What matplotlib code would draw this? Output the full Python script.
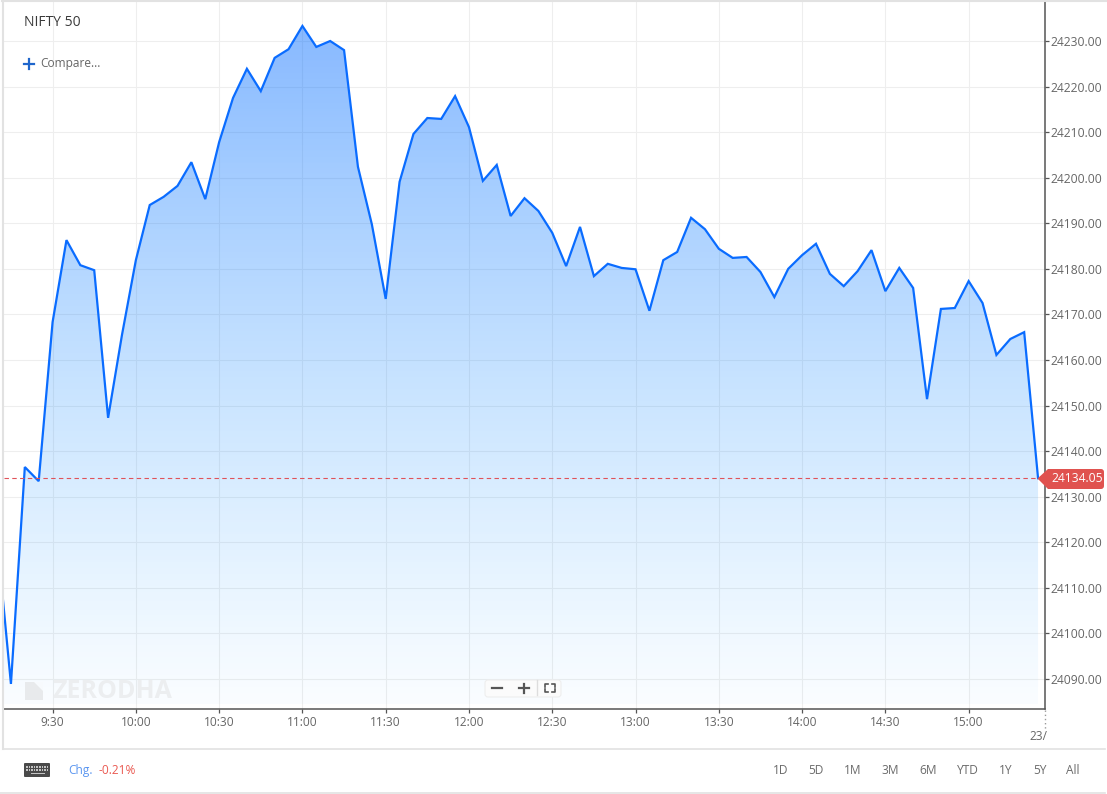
import numpy as np
import matplotlib
matplotlib.use('Agg')
import matplotlib.pyplot as plt
from matplotlib.patches import FancyBboxPatch, Polygon, Rectangle
from matplotlib.lines import Line2D

plt.rcParams['font.family'] = ['Open Sans', 'DejaVu Sans']

W, H = 1107, 794

# 5 minute closes, first one is 9:10 (off the left edge), last one is 15:25
closes = [24121.0, 24088.9, 24136.5, 24133.4,
          24168.3, 24186.3, 24180.8, 24179.7, 24147.3, 24165.5,
          24181.9, 24194.0, 24195.8, 24198.2, 24203.4, 24195.3,
          24207.8, 24217.5, 24223.9, 24219.0, 24226.3, 24228.2,
          24233.3, 24228.7, 24230.0, 24228.0, 24202.4, 24189.8,
          24173.4, 24199.1, 24209.6, 24213.1, 24212.9, 24217.9,
          24211.1, 24199.3, 24202.8, 24191.6, 24195.5, 24192.7,
          24187.9, 24180.6, 24189.2, 24178.4, 24181.1, 24180.2,
          24179.9, 24170.8, 24181.9, 24183.7, 24191.2, 24188.7,
          24184.4, 24182.4, 24182.6, 24179.3, 24173.8, 24180.0,
          24183.0, 24185.5, 24178.9, 24176.2, 24179.5, 24184.1,
          24175.1, 24180.2, 24175.8, 24151.4, 24171.2, 24171.4,
          24177.3, 24172.5, 24161.1, 24164.6, 24166.1, 24134.05]
start_minute = 9 * 60 + 10
last_price = 24134.05

time_labels = ['9:30', '10:00', '10:30', '11:00', '11:30', '12:00', '12:30',
               '13:00', '13:30', '14:00', '14:30', '15:00']
price_ticks = [24090, 24100, 24110, 24120, 24130, 24140, 24150, 24160,
               24170, 24180, 24190, 24200, 24210, 24220, 24230]
ranges = ['1D', '5D', '1M', '3M', '6M', 'YTD', '1Y', '5Y', 'All']
range_x = [781, 816, 853, 890, 928, 968, 1006, 1040, 1073]

minutes = start_minute + 5 * np.arange(len(closes))
time_ticks = [int(t.split(':')[0]) * 60 + int(t.split(':')[1]) for t in time_labels]
xlim = (552.5, 927.5)
ylim = (24083.4, 24238.56)

fig = plt.figure(figsize=(W / 100, H / 100), dpi=100, facecolor='white')

# main chart, x 4..1045 and y 2..709 in pixels
ax = fig.add_axes([4 / W, 1 - 709 / H, (1045 - 4) / W, (709 - 2) / H])
ax.set_xticks(time_ticks)
ax.set_xticklabels(time_labels)
ax.set_yticks(price_ticks)
ax.set_yticklabels(['%.2f' % p for p in price_ticks])
ax.yaxis.tick_right()
ax.tick_params(axis='x', length=3, width=0.9, color='#555555', labelcolor='#666666', labelsize=8.6, pad=2.2)
ax.tick_params(axis='y', length=3, width=0.9, color='#555555', labelcolor='#666666', labelsize=8.7, pad=1.2)
ax.grid(True, color='#eeeeee', linewidth=0.75)
ax.set_axisbelow(True)
for side in ['left', 'top']:
    ax.spines[side].set_visible(False)
for side in ['right', 'bottom']:
    ax.spines[side].set_color('#555555')
    ax.spines[side].set_linewidth(1.1)

# gradient under the line, a bit more cyan towards the bottom
top_val = max(closes)
bottom_val = 24084.5
alpha = np.linspace(0.47, 0.025, 256)
rgba = np.zeros((256, 1, 4))
rgba[..., 0, 0] = np.linspace(0, 40, 256) / 255
rgba[..., 0, 1] = np.linspace(105, 165, 256) / 255
rgba[..., 0, 2] = 1.0
rgba[..., 0, 3] = alpha
img = ax.imshow(rgba, extent=[minutes[0], minutes[-1], bottom_val, top_val],
                aspect='auto', origin='upper', zorder=2, interpolation='bilinear')
verts = list(zip(minutes, closes)) + [(minutes[-1], bottom_val), (minutes[0], bottom_val)]
clip = Polygon(verts, closed=True, transform=ax.transData, fill=False, edgecolor='none')
ax.add_patch(clip)
img.set_clip_path(clip)
ax.set_xlim(*xlim)
ax.set_ylim(*ylim)

ax.plot(minutes, closes, color='#0a6cff', linewidth=1.6, zorder=3, solid_joinstyle='miter')
ax.plot([xlim[0], minutes[-1]], [last_price, last_price], color='#e0525a', linewidth=0.8,
        dashes=(4, 3), zorder=3)

# page furniture goes on a pixel overlay
over = fig.add_axes([0, 0, 1, 1], facecolor='none', zorder=5)
over.set_xlim(0, W)
over.set_ylim(H, 0)
over.axis('off')


def line(xs, ys, color='#e2e2e2', lw=1.0, **kw):
    over.add_line(Line2D(xs, ys, color=color, linewidth=lw, **kw))


line([2.5, 2.5], [0, 749], lw=1.5)
line([2, W], [0.8, 0.8], lw=1.5)
line([3, 1105], [749, 749], lw=1.2)
line([0, 1105], [793, 793], lw=1.2)

over.text(24, 23, 'NIFTY 50', fontsize=10, color='#3a3a3a', va='center')
line([24, 34], [64, 64], color='#1f66cc', lw=1.6)
line([29, 29], [59, 69], color='#1f66cc', lw=1.6)
over.text(40, 63.5, 'Compare...', fontsize=8.6, color='#666666', va='center')

# watermark
over.add_patch(Polygon([(25, 682), (37, 682), (43, 688), (43, 700), (25, 700)],
                       closed=True, facecolor='#e8eaec', edgecolor='none'))
over.add_patch(Polygon([(34, 682), (43, 682), (43, 691)], closed=True,
                       facecolor='#f7fafd', edgecolor='none'))
over.text(52, 691.5, 'ZERODHA', fontsize=18, fontweight='bold', color='#eceef0', va='center')

# zoom widget
over.add_patch(FancyBboxPatch((485, 680), 76, 17, boxstyle='round,pad=0,rounding_size=3',
                              facecolor='#fbfbfb', edgecolor='#eeeeee', linewidth=0.8))
line([492, 502], [688, 688], color='#555555', lw=1.6)
line([518.5, 528.5], [688, 688], color='#555555', lw=1.6)
line([523.5, 523.5], [683.5, 693], color='#555555', lw=1.6)
line([537, 537], [680, 695], color='#dddddd', lw=1)
for cx, cy, dx, dy in [(545, 684, 1, 1), (555, 684, -1, 1), (545, 692, 1, -1), (555, 692, -1, -1)]:
    line([cx + 3 * dx, cx, cx], [cy, cy, cy + 3 * dy], color='#555555', lw=1.2)

# last price badge
over.add_patch(FancyBboxPatch((1047, 469), 57, 20, boxstyle='round,pad=0,rounding_size=3',
                              facecolor='#e0524f', edgecolor='none'))
over.add_patch(Polygon([(1037.5, 478.5), (1048, 469), (1052, 469), (1052, 489), (1048, 489)],
                       closed=True, facecolor='#e0524f', edgecolor='none'))
over.text(1077, 479, '%.2f' % last_price, fontsize=8.7, color='white', ha='center', va='center')

# date stub past the last tick
line([1045, 1045], [710, 730], color='#999999', lw=1, linestyle=(0, (1, 2)))
stub = over.text(1029, 737, '23/', fontsize=8.6, color='#666666', va='center')
stub.set_clip_path(Rectangle((1020, 725), 24, 24, transform=over.transData))

# footer
over.add_patch(FancyBboxPatch((24, 763), 26, 14, boxstyle='round,pad=0,rounding_size=1',
                              facecolor='#4a4a4a', edgecolor='none'))
for row_y in [766, 769]:
    for key_x in np.arange(26, 49, 2.6):
        over.add_patch(Rectangle((key_x, row_y), 1.6, 1.6, facecolor='#c4c4c4', edgecolor='none'))
over.add_patch(Rectangle((31, 772.5), 14, 1.6, facecolor='#c4c4c4', edgecolor='none'))

over.text(68, 770.5, 'Chg.', fontsize=8.6, color='#5b96f0', va='center')
over.text(99, 770.5, '-0.21%', fontsize=8.6, color='#ea5a52', va='center')
for lab, x in zip(ranges, range_x):
    over.text(x, 770.5, lab, fontsize=8.6, color='#6b6b6b', ha='center', va='center')

fig.savefig('out.png', dpi=100, facecolor='white')
